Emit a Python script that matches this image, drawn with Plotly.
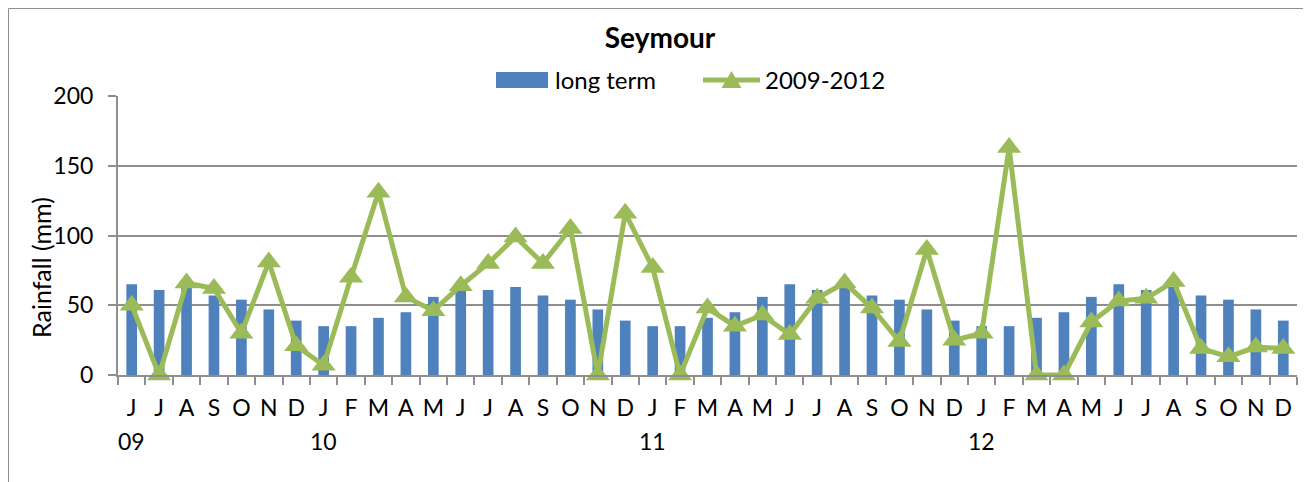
import plotly.graph_objects as go

# ---- data ----
month_letters = ["J", "J", "A", "S", "O", "N", "D",
                 "J", "F", "M", "A", "M", "J", "J", "A", "S", "O", "N", "D",
                 "J", "F", "M", "A", "M", "J", "J", "A", "S", "O", "N", "D",
                 "J", "F", "M", "A", "M", "J", "J", "A", "S", "O", "N", "D"]
year_positions = [0, 7, 19, 31]
year_labels = ["09", "10", "11", "12"]
categories = [f"{i:02d}-{m}" for i, m in enumerate(month_letters)]

long_term = [65, 61, 63, 57, 54, 47, 39,
             35, 35, 41, 45, 56, 65, 61, 63, 57, 54, 47, 39,
             35, 35, 41, 45, 56, 65, 61, 63, 57, 54, 47, 39,
             35, 35, 41, 45, 56, 65, 61, 63, 57, 54, 47, 39]
rain_2009_2012 = [50, 0, 66, 62, 30, 81, 21,
                  7, 70, 131, 56, 46, 64, 80, 99, 80, 105, 0, 116,
                  77, 0, 48, 35, 43, 29, 55, 66, 48, 24, 90, 25,
                  30, 163, 0, 0, 38, 53, 55, 67, 19, 13, 20, 19]

# ---- layout geometry (page body has an 8px margin) ----
O = 8
W, H = 1311 - O, 482 - O
ML, MT = 118 - O, 96 - O
MR = W - (1297 - O)
MB = H - (375 - O)
PW, PH = W - ML - MR, H - MT - MB
FONT = "Lato"
BLUE = "#4F81BD"
GREEN = "#9BBB59"
GRID = "#8E8E8E"


def px(x):
    return (x - O - ML) / PW


def py(y):
    return (H - MB - (y - O)) / PH


fig = go.Figure()
fig.add_trace(go.Bar(x=categories, y=long_term, name="long term",
                     marker=dict(color=BLUE, line=dict(width=0)), width=0.39,
                     showlegend=False))
fig.add_trace(go.Scatter(x=categories, y=rain_2009_2012, name="2009-2012",
                         mode="lines+markers",
                         line=dict(color=GREEN, width=5),
                         marker=dict(symbol="triangle-up", size=21, color=GREEN),
                         showlegend=False, cliponaxis=False))

shapes = [
    # outer chart border
    dict(type="rect", xref="paper", yref="paper", x0=px(8.5), x1=px(1307),
         y0=py(500), y1=py(8.5), line=dict(color=GRID, width=1), layer="below"),
    # legend: bar swatch
    dict(type="rect", xref="paper", yref="paper", x0=px(496), x1=px(548),
         y0=py(88), y1=py(72), fillcolor=BLUE, line=dict(width=0)),
    # legend: line swatch
    dict(type="line", xref="paper", yref="paper", x0=px(703), x1=px(760),
         y0=py(80), y1=py(80), line=dict(color=GREEN, width=5)),
    dict(type="path", xref="paper", yref="paper", xsizemode="pixel", ysizemode="pixel",
         xanchor=px(731.5), yanchor=py(80),
         path="M-10,-8 L10,-8 L0,9 Z", fillcolor=GREEN, line=dict(width=0)),
]

annotations = [
    dict(text="long term", xref="paper", yref="paper", x=px(553), y=py(80),
         xanchor="left", yanchor="middle", showarrow=False,
         font=dict(family=FONT, size=24, color="black")),
    dict(text="2009-2012", xref="paper", yref="paper", x=px(763), y=py(80),
         xanchor="left", yanchor="middle", showarrow=False,
         font=dict(family=FONT, size=24, color="black")),
    dict(text="Rainfall (mm)", xref="paper", yref="paper", x=px(41), y=py(268),
         xanchor="center", yanchor="middle", showarrow=False, textangle=-90,
         font=dict(family=FONT, size=25, color="black")),
]
for pos, lab in zip(year_positions, year_labels):
    annotations.append(dict(text=lab, x=categories[pos], xref="x", yref="paper",
                            y=py(441), xanchor="center", yanchor="middle",
                            showarrow=False,
                            font=dict(family=FONT, size=23, color="black")))

fig.update_layout(
    width=W, height=H,
    margin=dict(l=ML, r=MR, t=MT, b=MB, pad=0),
    paper_bgcolor="white", plot_bgcolor="white",
    font=dict(family=FONT, size=23, color="black"),
    title=dict(text="<b>Seymour</b>", x=px(660), xref="paper", xanchor="center",
               y=1 - 30 / H, yref="container", yanchor="middle",
               font=dict(family=FONT, size=28, color="black")),
    shapes=shapes,
    annotations=annotations,
    xaxis=dict(type="category", categoryorder="array", categoryarray=categories,
               tickmode="array", tickvals=categories, ticktext=month_letters,
               tickson="boundaries", ticks="outside", ticklen=8, tickwidth=2,
               tickcolor=GRID, showline=True, linecolor=GRID, linewidth=2,
               showgrid=False, tickangle=0, ticklabelstandoff=11,
               tickfont=dict(family=FONT, size=23, color="black"),
               range=[-0.5, len(categories) - 0.5]),
    yaxis=dict(range=[0, 200], dtick=50, tick0=0, ticks="outside", ticklen=8,
               tickwidth=2, tickcolor=GRID, showline=True, linecolor=GRID,
               linewidth=2, showgrid=True, gridcolor=GRID, gridwidth=2,
               zeroline=False, ticklabelstandoff=10,
               tickfont=dict(family=FONT, size=23, color="black")),
)

fig.write_html("out.html", config={"displayModeBar": False})
